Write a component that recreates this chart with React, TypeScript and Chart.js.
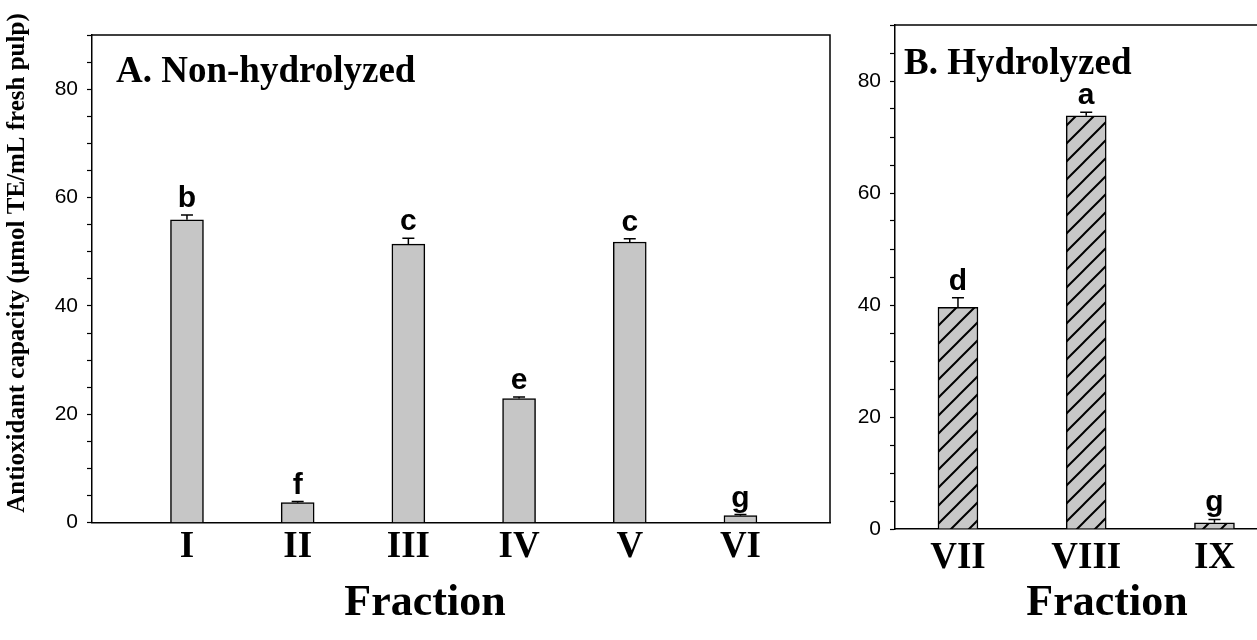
import React, { useEffect, useRef } from 'react';
import { Chart, registerables } from 'chart.js';

Chart.register(...registerables);

const SERIF = "'Liberation Serif', 'Times New Roman', serif";
const SANS = "'Liberation Sans', Arial, sans-serif";

// ---- data ----
const categoriesA = ['I', 'II', 'III', 'IV', 'V', 'VI'];
const valuesA = [55.9, 3.7, 51.4, 22.9, 51.8, 1.3];
const errorsA = [0.9, 0.2, 1.1, 0.3, 0.6, 0.2];
const lettersA = ['b', 'f', 'c', 'e', 'c', 'g'];

const categoriesB = ['VII', 'VIII', 'IX'];
const valuesB = [39.6, 73.8, 1.1];
const errorsB = [1.7, 0.6, 0.6];
const lettersB = ['d', 'a', 'g'];

const yTickLabels = [0, 20, 40, 60, 80];
const yMax = 90;
const yTitle = 'Antioxidant capacity (\u00B5mol TE/mL fresh pulp)';
const xTitle = 'Fraction';

function hatchPattern(): CanvasPattern | string {
  const c = document.createElement('canvas');
  c.width = 18;
  c.height = 18;
  const g = c.getContext('2d');
  if (!g) return '#c8c8c8';
  g.fillStyle = '#c8c8c8';
  g.fillRect(0, 0, 18, 18);
  g.strokeStyle = '#000';
  g.lineWidth = 2;
  g.beginPath();
  g.moveTo(-2, 20);
  g.lineTo(20, -2);
  g.moveTo(-2, 2);
  g.lineTo(2, -2);
  g.moveTo(16, 20);
  g.lineTo(20, 16);
  g.stroke();
  return g.createPattern(c, 'repeat') || '#c8c8c8';
}

type Panel = {
  cats: string[];
  vals: number[];
  errs: number[];
  letters: string[];
  title: string;
  titleDx: number;
  titleDy: number;
  xMin: number;
  xMax: number;
  barW: number;
  fill: any;
  padding: { left: number; right: number; top: number; bottom: number };
  yAxisWidth: number;
  showYTitle: boolean;
  xAxisHeight: number;
  xLabelPad: number;
  fracPadTop: number;
  frameRight: boolean;
};

function build(p: Panel): any {
  const annot = {
    id: 'annot',
    afterDatasetsDraw(chart: any) {
      const { ctx, chartArea: a } = chart;
      const x = chart.scales.x;
      const y = chart.scales.y;
      ctx.save();
      ctx.strokeStyle = '#000';
      ctx.lineWidth = 1.5;
      ctx.beginPath();
      ctx.moveTo(a.left, a.top);
      ctx.lineTo(a.right, a.top);
      if (p.frameRight) ctx.lineTo(a.right, a.bottom);
      ctx.stroke();
      p.vals.forEach((v, i) => {
        const px = x.getPixelForValue(i + 1);
        const y0 = y.getPixelForValue(v);
        const y1 = y.getPixelForValue(v + p.errs[i]);
        ctx.beginPath();
        ctx.moveTo(px, y0);
        ctx.lineTo(px, y1);
        ctx.moveTo(px - 6, y1);
        ctx.lineTo(px + 6, y1);
        ctx.stroke();
        ctx.fillStyle = '#000';
        ctx.font = `bold 30px ${SANS}`;
        ctx.textAlign = 'center';
        ctx.textBaseline = 'alphabetic';
        ctx.fillText(p.letters[i], px, y1 - 8);
      });
      ctx.font = `bold 37px ${SERIF}`;
      ctx.textAlign = 'left';
      ctx.textBaseline = 'alphabetic';
      ctx.fillStyle = '#000';
      ctx.fillText(p.title, a.left + p.titleDx, a.top + p.titleDy);
      if (p.showYTitle) {
        ctx.save();
        ctx.translate(18, 263);
        ctx.rotate(-Math.PI / 2);
        ctx.font = `bold 25px ${SERIF}`;
        ctx.textAlign = 'center';
        ctx.textBaseline = 'middle';
        ctx.fillText(yTitle, 0, 0);
        ctx.restore();
      }
      ctx.restore();
    },
  };

  return {
    type: 'bar',
    data: {
      datasets: [
        {
          data: p.vals.map((v, i) => ({ x: i + 1, y: v })),
          backgroundColor: p.fill,
          borderColor: '#000',
          borderWidth: 1.5,
          barThickness: p.barW,
        },
      ],
    },
    options: {
      animation: false,
      responsive: false,
      maintainAspectRatio: false,
      layout: { padding: p.padding },
      plugins: {
        legend: { display: false },
        tooltip: { enabled: false },
        title: {
          display: true,
          position: 'bottom',
          text: xTitle,
          color: '#000',
          font: { family: SERIF, size: 44, weight: 'bold', lineHeight: 1.2 },
          padding: { top: p.fracPadTop, bottom: 0 },
        },
      },
      scales: {
        x: {
          type: 'linear',
          min: p.xMin,
          max: p.xMax,
          offset: false,
          grid: { display: false, drawTicks: false, offset: false },
          border: { display: true, color: '#000', width: 1.5 },
          afterBuildTicks: (s: any) => {
            s.ticks = p.cats.map((_, i) => ({ value: i + 1 }));
          },
          afterFit: (s: any) => {
            s.height = p.xAxisHeight;
          },
          ticks: {
            color: '#000',
            font: { family: SERIF, size: 37, weight: 'bold' },
            padding: p.xLabelPad,
            autoSkip: false,
            maxRotation: 0,
            callback: (v: any) => p.cats[Math.round(Number(v)) - 1] ?? '',
          },
        },
        y: {
          min: 0,
          max: yMax,
          grid: {
            display: true,
            drawOnChartArea: false,
            drawTicks: true,
            tickLength: 5,
            tickColor: '#000',
            tickWidth: 1.2,
          },
          border: { display: true, color: '#000', width: 1.5 },
          afterFit: (s: any) => {
            s.width = p.yAxisWidth;
          },
          ticks: {
            stepSize: 5,
            autoSkip: false,
            color: '#000',
            font: { family: SANS, size: 21 },
            padding: 9,
            callback: (v: any) => (yTickLabels.includes(Number(v)) ? String(v) : ''),
          },
          title: { display: false },
        },
      },
    },
    plugins: [annot],
  };
}

export default function App() {
  const refA = useRef<HTMLCanvasElement>(null);
  const refB = useRef<HTMLCanvasElement>(null);

  useEffect(() => {
    const panelA: Panel = {
      cats: categoriesA,
      vals: valuesA,
      errs: errorsA,
      letters: lettersA,
      title: 'A. Non-hydrolyzed',
      titleDx: 24,
      titleDy: 46.7,
      xMin: 0.142,
      xMax: 6.809,
      barW: 33,
      fill: '#c6c6c6',
      padding: { left: 20, right: 20, top: 35, bottom: 9.5 },
      yAxisWidth: 72,
      showYTitle: true,
      xAxisHeight: 50,
      xLabelPad: 3,
      fracPadTop: 5,
      frameRight: true,
    };
    const panelB: Panel = {
      cats: categoriesB,
      vals: valuesB,
      errs: errorsB,
      letters: lettersB,
      title: 'B. Hydrolyzed',
      titleDx: 9,
      titleDy: 49,
      xMin: 0.509,
      xMax: 4.166,
      barW: 40,
      fill: hatchPattern(),
      padding: { left: 0, right: 0, top: 25, bottom: 9.6 },
      yAxisWidth: 45,
      showYTitle: false,
      xAxisHeight: 44,
      xLabelPad: 7,
      fracPadTop: 4.6,
      frameRight: false,
    };
    const a = new Chart(refA.current as HTMLCanvasElement, build(panelA));
    const b = new Chart(refB.current as HTMLCanvasElement, build(panelB));
    return () => {
      a.destroy();
      b.destroy();
    };
  }, []);

  return (
    <div
      style={{
        position: 'absolute',
        left: 0,
        top: 0,
        width: 1257,
        height: 640,
        overflow: 'hidden',
        background: '#fff',
      }}
    >
      <canvas
        ref={refA}
        width={850}
        height={640}
        style={{ position: 'absolute', left: 0, top: 0, width: 850, height: 640 }}
      />
      <canvas
        ref={refB}
        width={514}
        height={640}
        style={{ position: 'absolute', left: 850, top: 0, width: 514, height: 640 }}
      />
    </div>
  );
}
